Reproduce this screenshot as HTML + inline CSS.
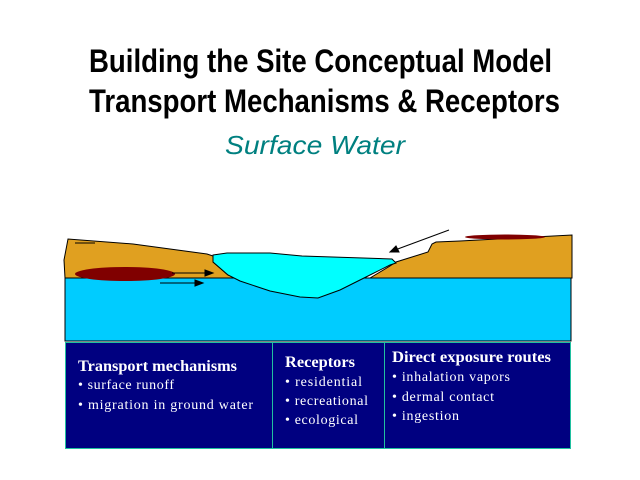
<!DOCTYPE html>
<html><head><meta charset="utf-8"><style>
html,body{margin:0;padding:0;background:#fff;width:640px;height:480px;overflow:hidden}
svg{display:block}
</style></head><body>
<svg width="640" height="480" viewBox="0 0 640 480" xmlns="http://www.w3.org/2000/svg">
<text x="89" y="72" font-family="Liberation Sans, sans-serif" font-weight="bold" font-size="32" textLength="463" lengthAdjust="spacingAndGlyphs">Building the Site Conceptual Model</text>
<text x="89" y="112" font-family="Liberation Sans, sans-serif" font-weight="bold" font-size="32" textLength="471" lengthAdjust="spacingAndGlyphs">Transport Mechanisms &amp; Receptors</text>
<text x="225" y="154" font-family="Liberation Sans, sans-serif" font-style="italic" font-size="26" fill="#008080" textLength="180" lengthAdjust="spacingAndGlyphs">Surface Water</text>

<rect x="65" y="278" width="506" height="63" fill="#00ccff" stroke="#000" stroke-width="1"/>
<polygon points="65,278 64,260 68,239 133,244 207,254 213,256 213,262 228,275 238,278 65,278" fill="#e0a020" stroke="#000" stroke-width="1"/>
<polygon points="370,278 390,266 396,262 428,252 432,244 436,242 460,241 572,235 572,278" fill="#e0a020" stroke="#000" stroke-width="1"/>
<polygon points="213,255 227,253 270,253 302,256 392,259 396,263 390,265 370,275 340,290 318,298 300,297 270,291 240,281 228,275 213,262" fill="#00ffff" stroke="#000" stroke-width="1"/>
<ellipse cx="125" cy="274" rx="50" ry="7" fill="#800000"/>
<ellipse cx="505" cy="237" rx="40" ry="2.5" fill="#800000"/>
<line x1="75" y1="243" x2="95" y2="243" stroke="#000"/>
<g stroke="#000" stroke-width="1">
<line x1="172" y1="273" x2="208" y2="273"/><polygon points="213,273 205,270 205,276" fill="#000"/>
<line x1="160" y1="283" x2="199" y2="283"/><polygon points="203,283 195,280 195,286" fill="#000"/>
<line x1="449" y1="230" x2="395" y2="250"/><polygon points="390,252 396,246 399,252" fill="#000"/>
</g>

<rect x="65.5" y="342.5" width="505" height="106" fill="#000080" stroke="#20c0a0" stroke-width="1"/>
<line x1="272.5" y1="342" x2="272.5" y2="448" stroke="#20c0a0"/>
<line x1="384.5" y1="342" x2="384.5" y2="448" stroke="#20c0a0"/>
<g font-family="Liberation Serif, serif" fill="#fff">
<text x="78" y="371" font-size="16" font-weight="bold" textLength="159" lengthAdjust="spacingAndGlyphs">Transport mechanisms</text>
<text x="78" y="389" font-size="14" textLength="96" lengthAdjust="spacing">• surface runoff</text>
<text x="78" y="409" font-size="14" textLength="175" lengthAdjust="spacing">• migration in ground water</text>
<text x="285" y="367" font-size="16" font-weight="bold" textLength="70" lengthAdjust="spacingAndGlyphs">Receptors</text>
<text x="285" y="386" font-size="14" textLength="77" lengthAdjust="spacing">• residential</text>
<text x="285" y="405" font-size="14" textLength="83" lengthAdjust="spacing">• recreational</text>
<text x="285" y="424" font-size="14" textLength="73" lengthAdjust="spacing">• ecological</text>
<text x="392" y="362" font-size="16" font-weight="bold" textLength="159" lengthAdjust="spacingAndGlyphs">Direct exposure routes</text>
<text x="392" y="381" font-size="14" textLength="118" lengthAdjust="spacing">• inhalation vapors</text>
<text x="392" y="401" font-size="14" textLength="102" lengthAdjust="spacing">• dermal contact</text>
<text x="392" y="420" font-size="14" textLength="67" lengthAdjust="spacing">• ingestion</text>
</g>
</svg>
</body></html>
